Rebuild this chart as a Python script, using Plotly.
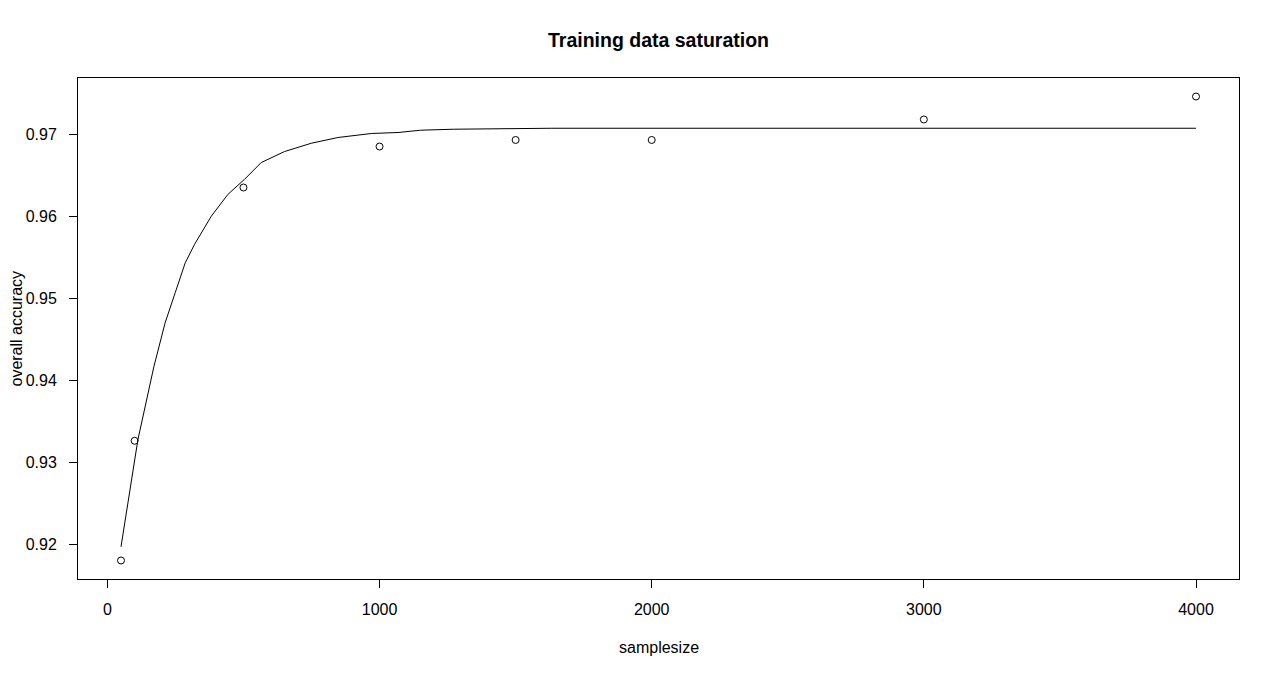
import plotly.graph_objects as go

# observed points
sample_size = [50, 100, 500, 1000, 1500, 2000, 3000, 4000]
accuracy = [0.9180, 0.9326, 0.9635, 0.9685, 0.9693, 0.9693, 0.9718, 0.9746]

# fitted saturation curve
curve_x = [50, 112, 171, 212, 249, 286, 320, 382, 443, 504, 565, 651, 749, 847,
           970, 1068, 1151, 1271, 1633, 2500, 3300, 4000]
curve_y = [0.91967, 0.93271, 0.94167, 0.94698, 0.95065, 0.95431, 0.95655, 0.96001,
           0.96267, 0.96450, 0.96654, 0.96789, 0.96890, 0.96960, 0.97009, 0.97021,
           0.97049, 0.97061, 0.97073, 0.97073, 0.97073, 0.97073]

x_ticks = [0, 1000, 2000, 3000, 4000]
y_ticks = [0.92, 0.93, 0.94, 0.95, 0.96, 0.97]
y_tick_labels = ["0.92", "0.93", "0.94", "0.95", "0.96", "0.97"]

FONT = "Liberation Sans, Arial, sans-serif"

fig = go.Figure()
fig.add_trace(go.Scatter(x=curve_x, y=curve_y, mode="lines",
                         line=dict(color="black", width=1), hoverinfo="skip"))
fig.add_trace(go.Scatter(x=sample_size, y=accuracy, mode="markers",
                         marker=dict(symbol="circle-open", size=7, color="black",
                                     line=dict(width=1, color="black"))))

fig.update_layout(
    width=1280, height=677,
    paper_bgcolor="white", plot_bgcolor="white",
    margin=dict(l=70, r=49, t=70, b=106),
    showlegend=False,
    font=dict(family=FONT, size=16, color="black"),
    xaxis=dict(range=[-108, 4158], tickvals=x_ticks, ticks="outside", ticklen=8,
               tickcolor="black", showline=True, mirror=True, linecolor="black",
               linewidth=1, showgrid=False, zeroline=False,
               tickfont=dict(family=FONT, size=16), ticklabelstandoff=8),
    yaxis=dict(range=[0.91574, 0.97686], tickvals=y_ticks, ticktext=y_tick_labels,
               ticks="outside", ticklen=8, tickcolor="black", showline=True,
               mirror=True, linecolor="black", linewidth=1, showgrid=False,
               zeroline=False, tickfont=dict(family=FONT, size=16),
               ticklabelstandoff=9),
    annotations=[
        dict(text="<b>Training data saturation</b>", xref="paper", yref="paper",
             x=0.5, y=1, yshift=38, xanchor="center", yanchor="middle",
             showarrow=False, font=dict(family=FONT, size=19.5)),
        dict(text="samplesize", xref="paper", yref="paper", x=0.5, y=0,
             yshift=-68, xanchor="center", yanchor="middle", showarrow=False,
             font=dict(family=FONT, size=16)),
        dict(text="overall accuracy", xref="paper", yref="paper", x=0, y=0.5,
             xshift=-62, xanchor="center", yanchor="middle", textangle=-90,
             showarrow=False, borderpad=0, font=dict(family=FONT, size=16)),
    ],
)

fig.write_html("out.html")
